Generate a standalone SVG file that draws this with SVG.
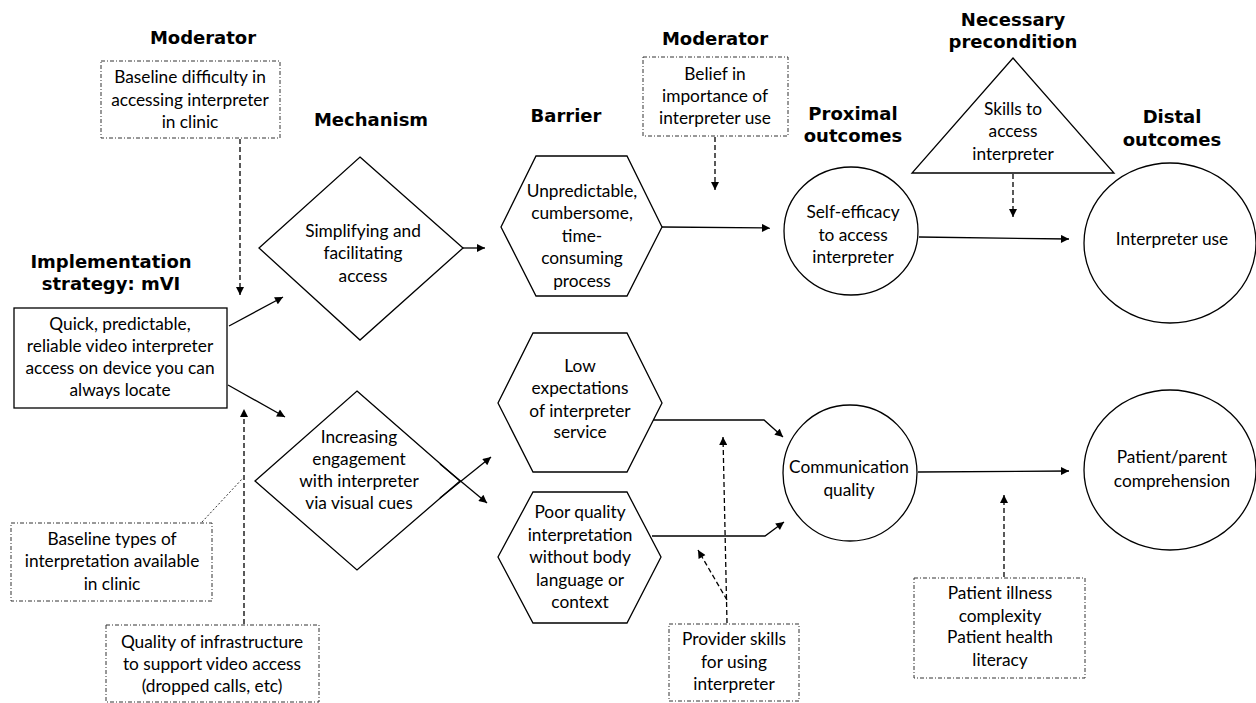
<svg xmlns="http://www.w3.org/2000/svg" width="1256" height="703" viewBox="0 0 1256 703">
<defs>
<style>
.h{font-family:"DejaVu Sans","Liberation Sans",sans-serif;font-weight:bold;font-size:18px;fill:#000;text-anchor:middle}
.t{font-family:Lato,"Liberation Sans",sans-serif;font-size:17.3px;fill:#000;text-anchor:middle}
.shape{fill:#fff;stroke:#000;stroke-width:1.3}
.mod{fill:#fff;stroke:#333;stroke-width:1;stroke-dasharray:4 2 1 2}
.c{fill:none;stroke:#000;stroke-width:1.3}
.d{fill:none;stroke:#000;stroke-width:1.3;stroke-dasharray:5 3}
.dot{fill:none;stroke:#333;stroke-width:1;stroke-dasharray:2 2}
</style>
<marker id="a" viewBox="0 0 10 10" refX="10" refY="5" markerWidth="10" markerHeight="8" markerUnits="userSpaceOnUse" orient="auto">
<path d="M0,0 L10,5 L0,10 z" fill="#000"/>
</marker>
</defs>
<rect width="1256" height="703" fill="#fff"/>

<g id="headings">
<text class="h" x="203" y="44">Moderator</text>
<text class="h" x="371" y="126">Mechanism</text>
<text class="h" x="111" y="268">Implementation</text>
<text class="h" x="111" y="290">strategy: mVI</text>
<text class="h" x="566" y="122">Barrier</text>
<text class="h" x="715" y="45">Moderator</text>
<text class="h" x="853" y="120">Proximal</text>
<text class="h" x="853" y="142">outcomes</text>
<text class="h" x="1013" y="26">Necessary</text>
<text class="h" x="1013" y="48">precondition</text>
<text class="h" x="1172" y="123">Distal</text>
<text class="h" x="1172" y="146">outcomes</text>
</g>

<g id="connectors">
<line class="d" x1="240" y1="139" x2="240" y2="295" marker-end="url(#a)"/>
<line class="c" x1="229" y1="326" x2="283" y2="297" marker-end="url(#a)"/>
<line class="c" x1="228" y1="385" x2="285" y2="417" marker-end="url(#a)"/>
<line class="c" x1="463" y1="248" x2="485" y2="248" marker-end="url(#a)"/>
<line class="dot" x1="202" y1="522" x2="243" y2="478"/>
<line class="d" x1="244" y1="624" x2="244" y2="409" marker-end="url(#a)"/>
<line class="c" x1="662" y1="227" x2="770" y2="228" marker-end="url(#a)"/>
<line class="d" x1="715" y1="137" x2="715" y2="190" marker-end="url(#a)"/>
<line class="d" x1="1013" y1="174" x2="1013" y2="217" marker-end="url(#a)"/>
<line class="c" x1="919" y1="237" x2="1069" y2="239" marker-end="url(#a)"/>
<polyline class="c" points="653,420 764,420 783,437" marker-end="url(#a)"/>
<polyline class="c" points="652,536 765,536 784,522" marker-end="url(#a)"/>
<line class="d" x1="727" y1="623" x2="723" y2="437" marker-end="url(#a)"/>
<line class="d" x1="727" y1="600" x2="698" y2="550" marker-end="url(#a)"/>
<line class="c" x1="918" y1="472" x2="1069" y2="471" marker-end="url(#a)"/>
<line class="d" x1="1004" y1="577" x2="1004" y2="495" marker-end="url(#a)"/>
</g>

<g id="mod-baseline-difficulty">
<rect class="mod" x="101" y="61" width="179" height="77"/>
<text class="t" x="190" y="83">Baseline difficulty in</text>
<text class="t" x="190" y="106">accessing interpreter</text>
<text class="t" x="190" y="128">in clinic</text>
</g>

<g id="strategy">
<rect class="shape" x="14" y="308" width="213" height="100"/>
<text class="t" x="120" y="330">Quick, predictable,</text>
<text class="t" x="120" y="352">reliable video interpreter</text>
<text class="t" x="120" y="374">access on device you can</text>
<text class="t" x="120" y="396">always locate</text>
</g>

<g id="mech-simplifying">
<polygon class="shape" points="360,157 463,248 360,340 259,248"/>
<text class="t" x="363" y="237">Simplifying and</text>
<text class="t" x="363" y="259">facilitating</text>
<text class="t" x="363" y="282">access</text>
</g>

<g id="mech-engagement">
<polygon class="shape" points="357,391 460,481 357,570 255,481"/>
<text class="t" x="359" y="443">Increasing</text>
<text class="t" x="359" y="465">engagement</text>
<text class="t" x="359" y="487">with interpreter</text>
<text class="t" x="359" y="509">via visual cues</text>
</g>

<g id="crossing-arrows">
<line class="c" x1="440" y1="464" x2="487" y2="503" marker-end="url(#a)"/>
<line class="c" x1="440" y1="498" x2="491" y2="457" marker-end="url(#a)"/>
</g>

<g id="mod-baseline-types">
<rect class="mod" x="11" y="523" width="201" height="78"/>
<text class="t" x="112" y="545">Baseline types of</text>
<text class="t" x="112" y="567">interpretation available</text>
<text class="t" x="112" y="590">in clinic</text>
</g>

<g id="mod-infrastructure">
<rect class="mod" x="106" y="625" width="213" height="77"/>
<text class="t" x="212" y="648">Quality of infrastructure</text>
<text class="t" x="212" y="670">to support video access</text>
<text class="t" x="212" y="692">(dropped calls, etc)</text>
</g>

<g id="barrier-unpredictable">
<polygon class="shape" points="536,156 627,156 662,227 627,296 536,296 501,227"/>
<text class="t" x="582" y="197">Unpredictable,</text>
<text class="t" x="582" y="219">cumbersome,</text>
<text class="t" x="582" y="242">time-</text>
<text class="t" x="582" y="264">consuming</text>
<text class="t" x="582" y="287">process</text>
</g>

<g id="barrier-low-expectations">
<polygon class="shape" points="533,333 627,333 662,403 627,472 533,472 498,403"/>
<text class="t" x="580" y="372">Low</text>
<text class="t" x="580" y="394">expectations</text>
<text class="t" x="580" y="417">of interpreter</text>
<text class="t" x="580" y="438">service</text>
</g>

<g id="barrier-poor-quality">
<polygon class="shape" points="533,492 627,492 661,557 627,623 533,623 498,557"/>
<text class="t" x="580" y="518">Poor quality</text>
<text class="t" x="580" y="541">interpretation</text>
<text class="t" x="580" y="563">without body</text>
<text class="t" x="580" y="586">language or</text>
<text class="t" x="580" y="608">context</text>
</g>

<g id="mod-belief">
<rect class="mod" x="643" y="57" width="145" height="79"/>
<text class="t" x="715" y="80">Belief in</text>
<text class="t" x="715" y="102">importance of</text>
<text class="t" x="715" y="124">interpreter use</text>
</g>

<g id="mod-provider-skills">
<rect class="mod" x="669" y="624" width="130" height="77"/>
<text class="t" x="734" y="645">Provider skills</text>
<text class="t" x="734" y="668">for using</text>
<text class="t" x="734" y="690">interpreter</text>
</g>

<g id="prox-self-efficacy">
<ellipse class="shape" cx="851" cy="231" rx="67" ry="64"/>
<text class="t" x="853" y="218">Self-efficacy</text>
<text class="t" x="853" y="241">to access</text>
<text class="t" x="853" y="263">interpreter</text>
</g>

<g id="prox-communication">
<ellipse class="shape" cx="850" cy="473" rx="67" ry="68"/>
<text class="t" x="849" y="473">Communication</text>
<text class="t" x="849" y="496">quality</text>
</g>

<g id="precondition-skills">
<polygon class="shape" points="1013,58 1114,173 912,173"/>
<text class="t" x="1013" y="115">Skills to</text>
<text class="t" x="1013" y="137">access</text>
<text class="t" x="1013" y="160">interpreter</text>
</g>

<g id="distal-interpreter-use">
<ellipse class="shape" cx="1170" cy="243" rx="86" ry="80"/>
<text class="t" x="1172" y="245">Interpreter use</text>
</g>

<g id="distal-comprehension">
<ellipse class="shape" cx="1170" cy="470" rx="86" ry="80"/>
<text class="t" x="1172" y="463">Patient/parent</text>
<text class="t" x="1172" y="487">comprehension</text>
</g>

<g id="mod-patient">
<rect class="mod" x="914" y="578" width="171" height="100"/>
<text class="t" x="1000" y="599">Patient illness</text>
<text class="t" x="1000" y="622">complexity</text>
<text class="t" x="1000" y="643">Patient health</text>
<text class="t" x="1000" y="666">literacy</text>
</g>
</svg>
